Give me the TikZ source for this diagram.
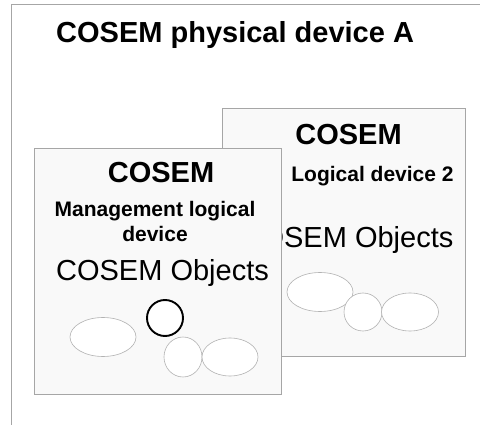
\documentclass[tikz,border=0pt]{standalone}
\usepackage{fontspec}
\setmainfont{Liberation Sans}
\usetikzlibrary{shapes.geometric}

\tikzset{
  frameline/.style={draw=gray!70, line width=0.8pt},
  devbox/.style={rectangle, draw=gray!70, line width=0.8pt, fill=gray!5,
                 anchor=north west, inner sep=0pt},
  objshape/.style={ellipse, draw=gray!60, line width=0.6pt, fill=white,
                   inner sep=0pt},
  selobj/.style={circle, draw=black, line width=1.9pt, fill=white,
                 inner sep=0pt, minimum size=36pt},
  bigbold/.style={font=\fontsize{29}{34}\selectfont\bfseries, anchor=base, inner sep=0pt},
  midbold/.style={font=\fontsize{21}{25}\selectfont\bfseries, anchor=base, inner sep=0pt, align=center},
  bigreg/.style={font=\fontsize{29}{34}\selectfont, anchor=base, inner sep=0pt},
}

\begin{document}
\begin{tikzpicture}[x=1pt, y=-1pt]
  \useasboundingbox (0,0) rectangle (480,425);

  % outer frame of the physical device
  \draw[frameline] (480,4) -- (11,4) -- (11,425);

  \node[font=\fontsize{29}{34}\selectfont\bfseries, anchor=base west, inner sep=0pt]
    (title) at (56,43) {COSEM physical device A};

  % logical device 2 (behind)
  \node[devbox, minimum width=243pt, minimum height=248pt] (ld2) at (222,108) {};
  \node[bigbold] (ld2name) at (348.5,145) {COSEM};
  \node[midbold] (ld2sub) at (372.5,182) {Logical device 2};
  \node[bigreg] (ld2objs) at (347,248) {COSEM Objects};
  \node[objshape, minimum width=66pt, minimum height=39pt] (b1) at (320,292) {};
  \node[objshape, minimum width=38pt, minimum height=38pt] (b2) at (363,312) {};
  \node[objshape, minimum width=57pt, minimum height=38pt] (b3) at (410,312) {};

  % management logical device (front)
  \node[devbox, minimum width=247pt, minimum height=246pt] (mld) at (34,148) {};
  \node[bigbold] (mldname) at (161,183) {COSEM};
  % base anchor of a two-line node sits on its last line
  \node[midbold] (mldsub) at (155,242) {Management logical\\device};
  \node[bigreg] (mldobjs) at (162.5,281) {COSEM Objects};
  \node[objshape, minimum width=66pt, minimum height=39pt] (f1) at (103,337) {};
  \node[objshape, minimum width=38pt, minimum height=40pt] (f3) at (183,357) {};
  \node[objshape, minimum width=56pt, minimum height=38pt] (f4) at (230,357) {};
  \node[selobj] (f2) at (165,318) {};
\end{tikzpicture}
\end{document}
